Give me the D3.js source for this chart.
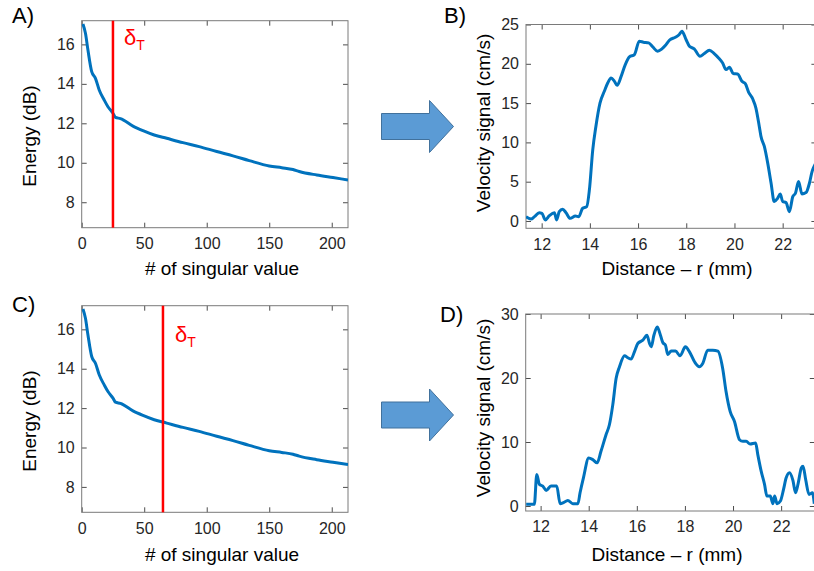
<!DOCTYPE html>
<html>
<head>
<meta charset="utf-8">
<script src="https://cdn.jsdelivr.net/npm/d3@7"></script>
<style>
  body { margin: 0; background: #fff; }
  svg text { font-family: "Liberation Sans", Arial, sans-serif; }
  .tick text { fill: #262626; font-size: 16px; }
  .tick line { stroke: #4d4d4d; }
</style>
</head>
<body>
<div id="figure"></div>
<script>
// --------- DATA ---------

// energy of singular values (same curve in A and C)
const svIndex = [1, 3, 5, 8, 11, 14, 18, 21, 25, 27, 31, 41, 49, 58, 68, 81, 94, 108, 121, 134, 150, 160, 169, 174, 188, 201, 213];
const energyDb = [17.03, 16.56, 15.71, 14.62, 14.28, 13.69, 13.18, 12.84, 12.51, 12.3, 12.24, 11.86, 11.63, 11.41, 11.24, 11.02, 10.82, 10.57, 10.35, 10.11, 9.84, 9.75, 9.66, 9.56, 9.38, 9.25, 9.13];

// thresholds (delta T) for A and C
const thresholds = [25, 65];

// velocity profile B
const distanceB = [11.35, 11.56, 11.70, 11.90, 12.01, 12.15, 12.32, 12.53, 12.62, 12.73, 12.87, 13.01, 13.18, 13.40, 13.54, 13.70, 13.87,
    13.98, 14.12, 14.25, 14.42, 14.60, 14.74, 14.88, 15.02, 15.13, 15.29, 15.47, 15.64, 15.85, 16.05, 16.22, 16.44, 16.61, 16.81,
    16.99, 17.13, 17.30, 17.55, 17.71, 17.82, 17.99, 18.13, 18.33, 18.57, 18.75, 18.96, 19.16, 19.34, 19.51, 19.65, 19.79, 19.95,
    20.13, 20.31, 20.45, 20.59, 20.76, 20.89, 21.03, 21.10, 21.24, 21.38, 21.52, 21.65, 21.79, 21.90, 22.00, 22.14, 22.28, 22.42,
    22.53, 22.66, 22.80, 22.97, 23.11, 23.22, 23.30, 23.40];
const velocityB = [0.55, 0.25, 0.55, 1.06, 0.98, 0.13, 0.68, 1.06, 0.13, 1.19, 1.49, 1.06, 0.34, 0.64, 0.55, 1.62, 1.83,
    3.95, 9.06, 12.03, 15.0, 16.5, 17.56, 18.2, 17.77, 17.26, 18.33, 19.9, 20.88, 21.17, 22.87, 22.75, 22.66, 22.15, 21.6,
    21.9, 22.32, 23.0, 23.38, 23.72, 24.15, 23.09, 22.24, 21.9, 20.96, 21.3, 21.73, 21.3, 20.75, 20.1, 19.26, 19.56, 18.75,
    18.7, 17.77, 17.47, 16.37, 15.52, 14.37, 12.03, 10.76, 9.48, 7.36, 4.80, 2.47, 2.89, 3.44, 2.47, 2.34, 1.19, 3.10,
    3.53, 5.02, 3.44, 3.61, 4.80, 6.29, 6.93, 7.5];

// velocity profile D
const distanceD = [11.40, 11.74, 11.84, 11.95, 12.09, 12.23, 12.43, 12.67, 12.81, 12.95, 13.13, 13.34, 13.55, 13.64, 13.78, 14.00,
    14.17, 14.35, 14.51, 14.72, 14.86, 15.00, 15.14, 15.28, 15.49, 15.63, 15.76, 15.90, 16.04, 16.25, 16.42, 16.53, 16.60, 16.71,
    16.85, 16.94, 17.08, 17.19, 17.29, 17.43, 17.61, 17.80, 18.02, 18.19, 18.40, 18.60, 18.74, 18.95, 19.16, 19.37, 19.57, 19.71,
    19.88, 20.06, 20.27, 20.41, 20.55, 20.71, 20.94, 21.03, 21.17, 21.31, 21.41, 21.55, 21.66, 21.73, 21.83, 21.97, 22.10, 22.21,
    22.35, 22.49, 22.60, 22.70, 22.84, 22.91, 23.02, 23.16, 23.30, 23.38];
const velocityD = [0.26, 0.26, 4.92, 3.37, 3.11, 2.44, 3.11, 3.11, 0.36, 0.52, 0.88, 0.36, 0.36, 2.07, 4.40, 7.51,
    7.25, 6.74, 8.55, 11.14, 12.69, 15.80, 19.95, 21.76, 23.47, 23.16, 22.95, 24.09, 25.39, 25.91, 26.68, 25.39, 24.87, 26.68,
    27.98, 27.2, 25.54, 25.13, 23.68, 24.2, 24.2, 23.47, 24.87, 24.09, 22.54, 21.76, 22.28, 24.35, 24.35, 24.2, 21.5, 17.88,
    14.77, 13.21, 10.36, 10.10, 10.10, 9.69, 9.84, 8.03, 5.44, 3.37, 1.55, 1.55, 0.36, 1.55, 0.36, 0.78, 2.59, 4.40,
    5.18, 3.99, 2.07, 3.37, 5.96, 6.22, 4.15, 1.81, 2.07, 0.36];

const energyTicks = [8, 10, 12, 14, 16];
const svTicks = [0, 50, 100, 150, 200];
const distTicks = [12, 14, 16, 18, 20, 22];
const velTicksB = [0, 5, 10, 15, 20, 25];
const velTicksD = [0, 10, 20, 30];

// --------- DRAWING ---------

const svg = d3.select("#figure")
    .append("svg")
    .attr("width", 814)
    .attr("height", 571);

let clipId = 0;

function panel(box, xDomain, yDomain, xTicks, yTicks, xs, ys, labels) {
    let x = d3.scaleLinear().domain(xDomain).range([box.left, box.right]);
    let y = d3.scaleLinear().domain(yDomain).range([box.bottom, box.top]);
    let g = svg.append("g");

    // clip
    let id = "clip" + (clipId++);
    g.append("clipPath").attr("id", id)
        .append("rect")
        .attr("x", box.left).attr("y", box.top)
        .attr("width", box.right - box.left).attr("height", box.bottom - box.top);

    // inward ticks, all four sides
    g.append("g")
        .attr("transform", "translate(0," + box.bottom + ")")
        .call(d3.axisBottom(x).tickValues(xTicks).tickSizeInner(-5).tickSizeOuter(0).tickPadding(10))
        .call(a => a.select(".domain").remove());
    g.append("g")
        .attr("transform", "translate(" + box.left + ",0)")
        .call(d3.axisLeft(y).tickValues(yTicks).tickSizeInner(-5).tickSizeOuter(0).tickPadding(7))
        .call(a => a.select(".domain").remove());
    g.append("g")
        .attr("transform", "translate(0," + box.top + ")")
        .call(d3.axisTop(x).tickValues(xTicks).tickSizeInner(-5).tickSizeOuter(0).tickFormat(""))
        .call(a => a.select(".domain").remove());
    g.append("g")
        .attr("transform", "translate(" + box.right + ",0)")
        .call(d3.axisRight(y).tickValues(yTicks).tickSizeInner(-5).tickSizeOuter(0).tickFormat(""))
        .call(a => a.select(".domain").remove());
    g.selectAll(".tick text").attr("font-family", null).attr("font-size", null);

    // box
    g.append("rect")
        .attr("x", box.left).attr("y", box.top)
        .attr("width", box.right - box.left).attr("height", box.bottom - box.top)
        .attr("fill", "none")
        .attr("stroke", "#7a7a7a")
        .attr("stroke-width", 1);

    let pts = xs.map((d, i) => [d, ys[i]]);
    let line = d3.line()
        .x(d => x(d[0]))
        .y(d => y(d[1]))
        .curve(d3.curveMonotoneX);

    g.append("path")
        .attr("clip-path", "url(#" + id + ")")
        .attr("fill", "none")
        .attr("stroke", "#0072BD")
        .attr("stroke-width", 3)
        .attr("stroke-linejoin", "round")
        .attr("d", line(pts));

    // axis labels
    g.append("text")
        .attr("x", labels.xlx).attr("y", labels.xly)
        .attr("text-anchor", "middle")
        .attr("font-size", 19)
        .attr("fill", "#000")
        .text(labels.x);
    g.append("text")
        .attr("transform", "translate(" + labels.ylx + "," + labels.yly + ") rotate(-90)")
        .attr("text-anchor", "middle")
        .attr("font-size", 19)
        .attr("fill", "#000")
        .text(labels.y);
    g.append("text")
        .attr("x", labels.px).attr("y", labels.py)
        .attr("font-size", 22)
        .attr("fill", "#000")
        .text(labels.panel);

    return {x: x, y: y, g: g, clip: id};
}

function threshold(p, value, box, lx, ly) {
    p.g.append("line")
        .attr("x1", p.x(value)).attr("x2", p.x(value))
        .attr("y1", box.top).attr("y2", box.bottom)
        .attr("stroke", "#ff0000")
        .attr("stroke-width", 2.5);
    let t = p.g.append("text")
        .attr("x", lx).attr("y", ly)
        .attr("fill", "#ff0000")
        .attr("font-size", 22);
    t.append("tspan").text("δ");
    t.append("tspan").attr("font-size", 14).attr("dy", 5).text("T");
}

function arrow(cx, cy) {
    // decorative block arrow between panels
    let path = d3.path();
    path.moveTo(cx - 36, cy - 13);
    path.lineTo(cx + 12, cy - 13);
    path.lineTo(cx + 12, cy - 26);
    path.lineTo(cx + 36, cy);
    path.lineTo(cx + 12, cy + 26);
    path.lineTo(cx + 12, cy + 13);
    path.lineTo(cx - 36, cy + 13);
    path.closePath();
    svg.append("path")
        .attr("d", path.toString())
        .attr("fill", "#5B9BD5")
        .attr("stroke", "#41719C")
        .attr("stroke-width", 1);
}

let boxA = {left: 81.7, right: 348, top: 20.7, bottom: 227.7};
let pA = panel(boxA, [0, 213], [6.71, 17.2], svTicks, energyTicks, svIndex, energyDb,
    {x: "# of singular value", xlx: 222, xly: 275, y: "Energy (dB)", ylx: 36, yly: 136, panel: "A)", px: 12, py: 23});
threshold(pA, thresholds[0], boxA, 124, 45);

let boxC = {left: 81.7, right: 348, top: 305.7, bottom: 512.3};
let pC = panel(boxC, [0, 213], [6.71, 17.2], svTicks, energyTicks, svIndex, energyDb,
    {x: "# of singular value", xlx: 222, xly: 561, y: "Energy (dB)", ylx: 36, yly: 421, panel: "C)", px: 12, py: 312});
threshold(pC, thresholds[1], boxC, 175, 342);

let boxB = {left: 526, right: 816.4, top: 24.5, bottom: 228.3};
panel(boxB, [11.35, 23.4], [-0.93, 25], distTicks, velTicksB, distanceB, velocityB,
    {x: "Distance \u2013 r (mm)", xlx: 677, xly: 275, y: "Velocity signal (cm/s)", ylx: 490, yly: 123, panel: "B)", px: 444, py: 23});

let boxD = {left: 525.7, right: 814.8, top: 314, bottom: 511};
panel(boxD, [11.38, 23.4], [-0.78, 30], distTicks, velTicksD, distanceD, velocityD,
    {x: "Distance \u2013 r (mm)", xlx: 667, xly: 561, y: "Velocity signal (cm/s)", ylx: 490, yly: 408, panel: "D)", px: 440, py: 322});

arrow(417.5, 126.5);
arrow(417.5, 415);
</script>
</body>
</html>
